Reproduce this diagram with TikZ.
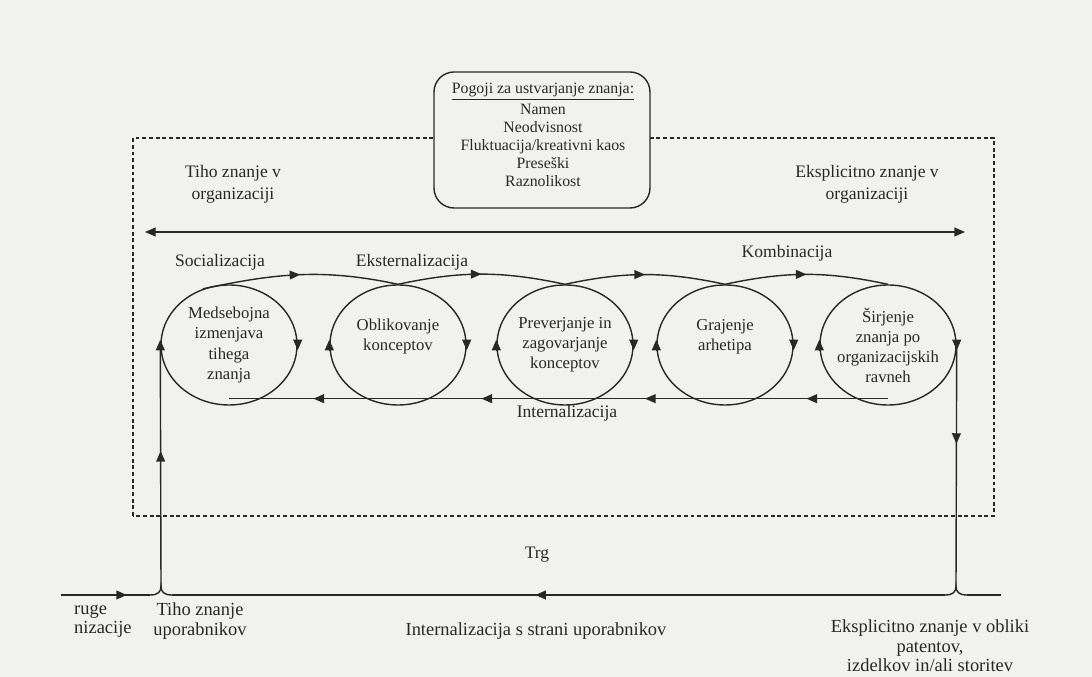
\documentclass[tikz,border=0pt]{standalone}
\usepackage{fontspec}
\setmainfont{Liberation Serif}
\usepackage{tikz}
\usetikzlibrary{arrows.meta,shapes.geometric,decorations.markings}
\usepackage{xcolor}
\definecolor{ink}{RGB}{40,40,40}
\definecolor{paper}{RGB}{241,241,240}
\tikzstyle{arrow} = [thick,->,>={Triangle[length=6pt,width=5pt]},color=ink]
\tikzstyle{phase} = [ellipse, minimum width=2.72cm, minimum height=2.4cm, inner sep=0pt, inner xsep=-4pt, align=center, draw=ink, thick, text=ink, font=\fontsize{9.5}{11.4}\selectfont]
\tikzstyle{conditions} = [rectangle, rounded corners=0.4cm, minimum width=4.32cm, minimum height=2.72cm, draw=ink, thick, fill=paper]
\tikzstyle{lbl} = [align=center, text=ink, font=\fontsize{10}{12.5}\selectfont]
\tikzstyle{lblb} = [lbl, font=\fontsize{10.5}{11}\selectfont]
\tikzset{midarrow/.style={thick, color=ink, postaction={decorate}, decoration={markings, mark=at position #1 with {\arrow{Triangle[length=6pt,width=5pt]}}}}, midarrow/.default=0.5}

\begin{document}
\begin{tikzpicture}
    % Paper
    \fill[paper] (0,0) rectangle (21.84,13.54);
    \useasboundingbox (0,0) rectangle (21.84,13.54);

    % Organisation
    \draw[ink, line width=0.6pt, dash pattern=on 2.2pt off 1.6pt] (2.66,3.22) rectangle (19.88,10.78);

    % Conditions
    \node[conditions] (pogoji) at (10.84,10.74) {};
    \node[lbl, font=\fontsize{9}{10.3}\selectfont] (pogojitxt) at (10.86,10.84) {\underline{Pogoji za ustvarjanje znanja:}\\[1.5pt]Namen\\Neodvisnost\\Fluktuacija/kreativni kaos\\Preseški\\Raznolikost};

    % Tacit and explicit knowledge
    \node[lbl] (tiho) at (4.66,9.86) {Tiho znanje v\\organizaciji};
    \node[lbl] (ekspl) at (17.34,9.86) {Eksplicitno znanje v\\organizaciji};
    \coordinate (tl) at (2.90,8.90);
    \coordinate (tr) at (19.30,8.90);
    \draw[arrow, <->] (tl) -- (tr);

    % Phases
    \node[phase] (e1) at (4.58,6.64) {Medsebojna\\izmenjava\\tihega\\znanja};
    \node[phase] (e2) at (7.96,6.64) {Oblikovanje\\konceptov\\[0pt]};
    \node[phase] (e3) at (11.30,6.64) {Preverjanje in\\zagovarjanje\\konceptov};
    \node[phase] (e4) at (14.50,6.64) {Grajenje\\arhetipa\\[0pt]};
    \node[phase] (e5) at (17.76,6.64) {Širjenje\\znanja po\\organizacijskih\\ravneh};
    \foreach \e in {e1,e2,e3,e4,e5}{
        \draw[arrow] ([yshift=3pt]\e.east) -- ([yshift=-3pt]\e.east);
        \draw[arrow] ([yshift=-3pt]\e.west) -- ([yshift=3pt]\e.west);
    }

    % Conversions
    \node[lbl] (soc) at (4.40,8.30) {Socializacija};
    \node[lbl] (ekst) at (8.24,8.30) {Eksternalizacija};
    \node[lbl] (komb) at (15.74,8.48) {Kombinacija};
    \node[lbl] (inter) at (11.34,5.28) {Internalizacija};
    \draw[midarrow] (e1.115) to[out=12,in=168] (e2.north);
    \draw[midarrow] (e2.north) to[out=12,in=168] (e3.north);
    \draw[midarrow] (e3.north) to[out=12,in=168] (e4.north);
    \draw[midarrow] (e4.north) to[out=12,in=168] (e5.north);
    \draw[midarrow] ([yshift=4pt]e5.south) -- ([yshift=4pt]e4.south);
    \draw[midarrow] ([yshift=4pt]e4.south) -- ([yshift=4pt]e3.south);
    \draw[midarrow] ([yshift=4pt]e3.south) -- ([yshift=4pt]e2.south);
    \draw[midarrow] ([yshift=4pt]e2.south) -- ([yshift=4pt]e1.south);

    % Market
    \node[lbl] (trg) at (10.74,2.44) {Trg};
    \coordinate (jl) at (3.22,1.82);
    \coordinate (jr) at (19.12,1.82);
    \coordinate (jlw) at (3.00,1.64);
    \coordinate (jle) at (3.44,1.64);
    \coordinate (jrw) at (18.90,1.64);
    \coordinate (jre) at (19.34,1.64);
    \coordinate (src) at (1.22,1.64);
    \coordinate (snk) at (20.02,1.64);
    \draw[midarrow=0.56] (jl) -- (e1.west);
    \draw[midarrow=0.41] (e5.east) -- (jr);
    \draw[thick, ink] (jlw) .. controls (3.16,1.64) and (3.22,1.70) .. (jl) .. controls (3.22,1.70) and (3.28,1.64) .. (jle);
    \draw[thick, ink] (jrw) .. controls (19.06,1.64) and (19.12,1.70) .. (jr) .. controls (19.12,1.70) and (19.18,1.64) .. (jre);
    \draw[midarrow=0.74] (src) -- (jlw);
    \draw[midarrow=0.53] (jrw) -- (jle);
    \draw[thick, ink] (jre) -- (snk);

    % Users
    \node[lblb, anchor=west, align=left] (druge) at (1.36,1.12) {ruge\\nizacije};
    \node[lblb] (uporab) at (4.00,1.12) {Tiho znanje\\uporabnikov};
    \node[lblb] (intuser) at (10.72,0.92) {Internalizacija s strani uporabnikov};
    \node[lblb] (eksplout) at (18.60,0.62) {Eksplicitno znanje v obliki\\patentov,\\izdelkov in/ali storitev};
\end{tikzpicture}
\end{document}
